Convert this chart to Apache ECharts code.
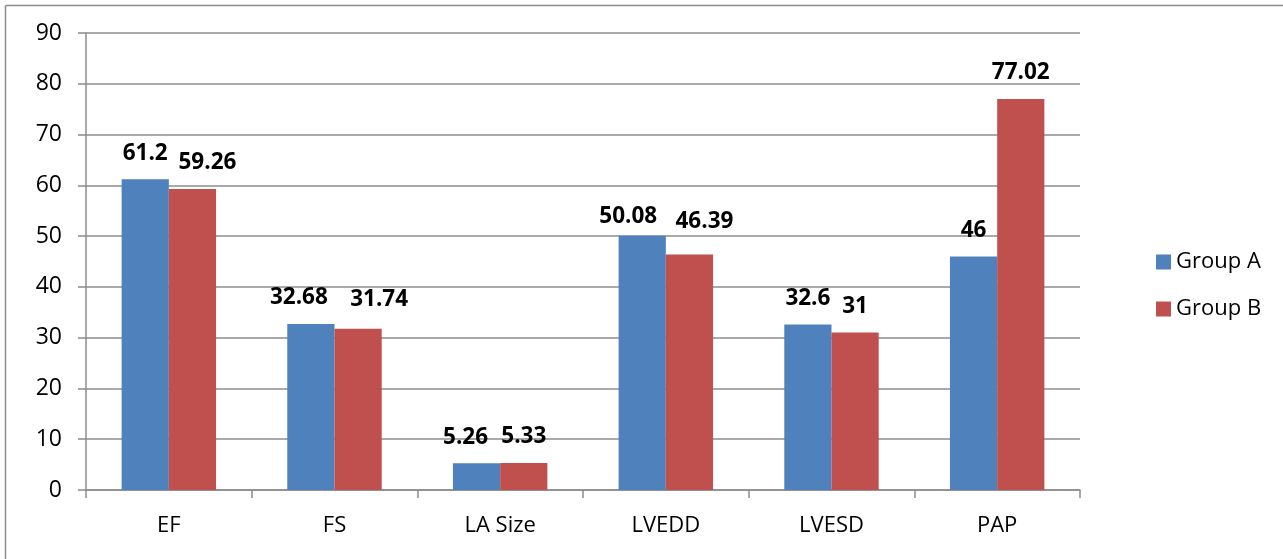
<!DOCTYPE html>
<html>
<head>
<meta charset="utf-8">
<script src="https://cdn.jsdelivr.net/npm/echarts@6/dist/echarts.min.js"></script>
<style>
  html, body { margin: 0; padding: 0; background: #fff; }
  #chart { width: 1283px; height: 559px; }
</style>
</head>
<body>
<div id="chart"></div>
<script>
// Echocardiographic parameters by group
const categories = ['EF', 'FS', 'LA Size', 'LVEDD', 'LVESD', 'PAP'];
const groupA = [61.2, 32.68, 5.26, 50.08, 32.6, 46];
const groupB = [59.26, 31.74, 5.33, 46.39, 31, 77.02];
const seriesNames = ['Group A', 'Group B'];

// Nudges [dx, dy] that keep neighbouring value labels from colliding
const labelNudgeA = [[0, 0], [-12, 0], [-11, 0], [-14, 7], [0, 0], [0, 0]];
const labelNudgeB = [[15, 0], [21, -3], [0, 0], [15, -7], [0, 0], [0, 0]];

const FONT = '"Open Sans", "Noto Sans", sans-serif';
const GRID_COLOR = '#8c8c8c';

const chart = echarts.init(document.getElementById('chart'), null, { renderer: 'canvas' });

const labelStyle = {
  show: true,
  position: 'top',
  distance: 15,
  fontFamily: FONT,
  fontWeight: 'bold',
  fontSize: 22.5,
  lineHeight: 22,
  color: '#000'
};

function withNudges(values, nudges) {
  return values.map((v, i) => ({ value: v, label: { offset: nudges[i] } }));
}

chart.setOption({
  animation: false,
  textStyle: { fontFamily: FONT },
  graphic: [
    // outer frame (left and top edges)
    { type: 'line', shape: { x1: 5.5, y1: 5.5, x2: 5.5, y2: 559 }, style: { stroke: '#8c8c8c', lineWidth: 1.5 } },
    { type: 'line', shape: { x1: 5.5, y1: 5.5, x2: 1283, y2: 5.5 }, style: { stroke: '#8c8c8c', lineWidth: 1.5 } }
  ],
  grid: { left: 86, right: 203, top: 33, bottom: 69, containLabel: false },
  legend: {
    orient: 'vertical',
    left: 1151,
    top: 246,
    itemWidth: 15,
    itemHeight: 15,
    itemGap: 25,
    icon: 'rect',
    textStyle: { fontFamily: FONT, fontSize: 22, lineHeight: 22, color: '#000' },
    data: seriesNames
  },
  xAxis: {
    type: 'category',
    data: categories,
    axisLine: { lineStyle: { color: GRID_COLOR, width: 1.5 } },
    axisTick: { show: true, length: 8, interval: 0, lineStyle: { color: GRID_COLOR, width: 1.5 } },
    axisLabel: { fontFamily: FONT, fontSize: 22, color: '#000', margin: 25, interval: 0 }
  },
  yAxis: {
    type: 'value',
    min: 0,
    max: 90,
    interval: 10,
    axisLine: { show: true, lineStyle: { color: GRID_COLOR, width: 1.5 } },
    axisTick: { show: true, length: 8, lineStyle: { color: GRID_COLOR, width: 1.5 } },
    axisLabel: { fontFamily: FONT, fontSize: 23, color: '#000', margin: 24 },
    splitLine: { show: true, lineStyle: { color: GRID_COLOR, width: 1.5 } }
  },
  series: [
    {
      name: seriesNames[0],
      type: 'bar',
      data: withNudges(groupA, labelNudgeA),
      barGap: '0%',
      barCategoryGap: '43%',
      itemStyle: { color: '#4F81BD' },
      label: labelStyle
    },
    {
      name: seriesNames[1],
      type: 'bar',
      data: withNudges(groupB, labelNudgeB),
      itemStyle: { color: '#C0504D' },
      label: labelStyle
    }
  ]
});
</script>
</body>
</html>
